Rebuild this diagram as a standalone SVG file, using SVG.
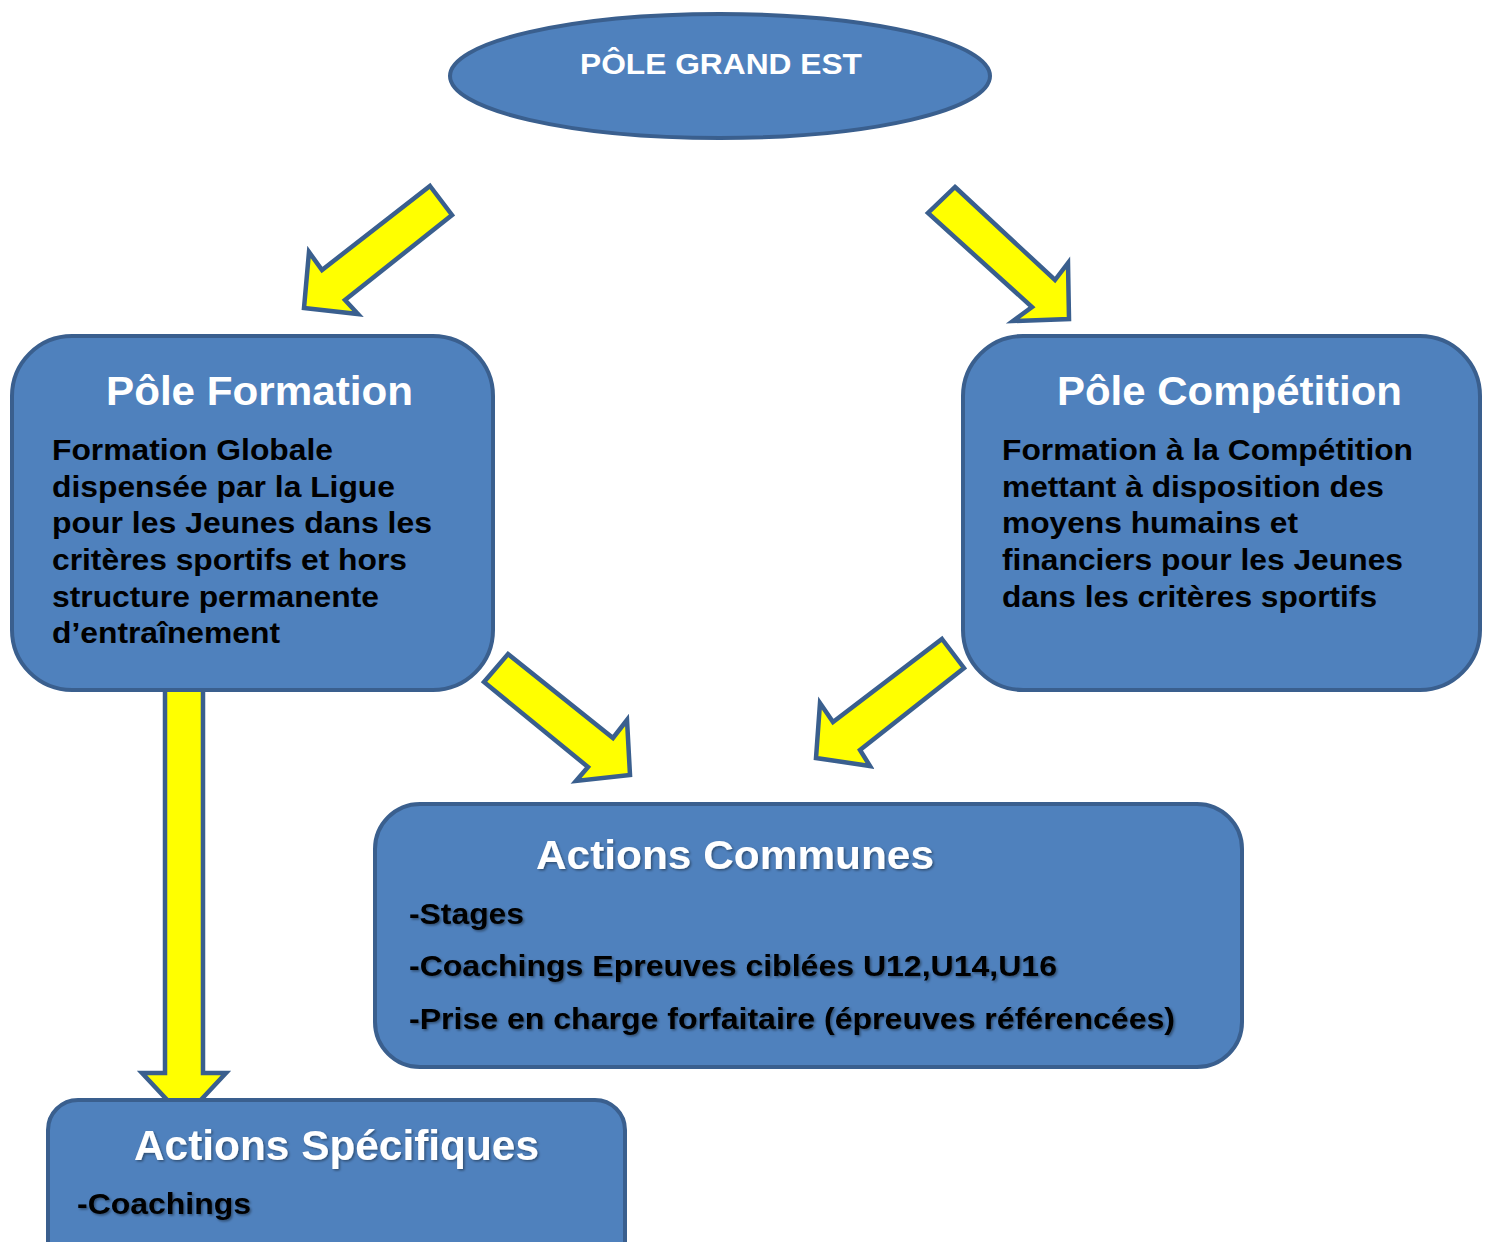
<svg xmlns="http://www.w3.org/2000/svg" width="1491" height="1242" viewBox="0 0 1491 1242">
<defs>
<filter id="sh" x="-5%" y="-20%" width="110%" height="140%">
<feDropShadow dx="1.5" dy="1.5" stdDeviation="1" flood-color="#000" flood-opacity="0.4"/>
</filter>
</defs>
<style>
.box{fill:#4F81BD;stroke:#3A5F8E;stroke-width:4}
.arr{fill:#FFFF00;stroke:#3A5F8E;stroke-width:4.5;stroke-linejoin:miter}
.t{font-family:"Liberation Sans",Arial,sans-serif;font-weight:bold;fill:#fff}
.b{font-family:"Liberation Sans",Arial,sans-serif;font-weight:bold;fill:#000;font-size:30px}
</style>
<rect width="1491" height="1242" fill="#fff"/>
<g id="connectors">
<polygon class="arr" points="165,680 203,680 203,1073 226,1073 184,1118 142,1073 165,1073"/>
<polygon class="arr" points="430,186 452,215 345,300 358,314 304,308 309,252 322,270"/>
<polygon class="arr" points="955,187 1055,280 1068,263 1069,319 1013,321 1032,307 928,213"/>
<polygon class="arr" points="508,654 613,738 627,720 630,775 576,781 588,767 484,682"/>
<polygon class="arr" points="942,639 964,668 860,750 870,766 816,758 820,703 833,722"/>
</g>
<g id="pole-grand-est">
<ellipse class="box" cx="720" cy="76" rx="270" ry="62"/>
<text class="t" x="721" y="74" font-size="30" text-anchor="middle" textLength="282" lengthAdjust="spacingAndGlyphs">PÔLE GRAND EST</text>
</g>
<g id="pole-formation">
<rect class="box" x="12" y="336" width="481" height="354" rx="60"/>
<text class="t" x="106" y="405" font-size="40" textLength="307" lengthAdjust="spacingAndGlyphs">Pôle Formation</text>
<text class="b" x="52" y="460" textLength="281" lengthAdjust="spacingAndGlyphs">Formation Globale</text>
<text class="b" x="52" y="497" textLength="343" lengthAdjust="spacingAndGlyphs">dispensée par la Ligue</text>
<text class="b" x="52" y="533" textLength="380" lengthAdjust="spacingAndGlyphs">pour les Jeunes dans les</text>
<text class="b" x="52" y="570" textLength="355" lengthAdjust="spacingAndGlyphs">critères sportifs et hors</text>
<text class="b" x="52" y="607" textLength="327" lengthAdjust="spacingAndGlyphs">structure permanente</text>
<text class="b" x="52" y="643" textLength="228" lengthAdjust="spacingAndGlyphs">d’entraînement</text>
</g>
<g id="pole-competition">
<rect class="box" x="963" y="336" width="517" height="354" rx="60"/>
<text class="t" x="1057" y="405" font-size="40" textLength="345" lengthAdjust="spacingAndGlyphs">Pôle Compétition</text>
<text class="b" x="1002" y="460" textLength="411" lengthAdjust="spacingAndGlyphs">Formation à la Compétition</text>
<text class="b" x="1002" y="497" textLength="382" lengthAdjust="spacingAndGlyphs">mettant à disposition des</text>
<text class="b" x="1002" y="533" textLength="296" lengthAdjust="spacingAndGlyphs">moyens humains et</text>
<text class="b" x="1002" y="570" textLength="401" lengthAdjust="spacingAndGlyphs">financiers pour les Jeunes</text>
<text class="b" x="1002" y="607" textLength="375" lengthAdjust="spacingAndGlyphs">dans les critères sportifs</text>
</g>
<g id="actions-communes">
<rect class="box" x="375" y="804" width="867" height="263" rx="45"/>
<text class="t" x="536" y="869" font-size="41" textLength="398" lengthAdjust="spacingAndGlyphs" filter="url(#sh)">Actions Communes</text>
<text class="b" x="409" y="924" textLength="115" lengthAdjust="spacingAndGlyphs" filter="url(#sh)">-Stages</text>
<text class="b" x="409" y="976" textLength="648" lengthAdjust="spacingAndGlyphs" filter="url(#sh)">-Coachings Epreuves ciblées U12,U14,U16</text>
<text class="b" x="409" y="1029" textLength="766" lengthAdjust="spacingAndGlyphs" filter="url(#sh)">-Prise en charge forfaitaire (épreuves référencées)</text>
</g>
<g id="actions-specifiques">
<rect class="box" x="48" y="1100" width="577" height="200" rx="30"/>
<text class="t" x="134" y="1160" font-size="42" textLength="405" lengthAdjust="spacingAndGlyphs" filter="url(#sh)">Actions Spécifiques</text>
<text class="b" x="77" y="1214" textLength="174" lengthAdjust="spacingAndGlyphs" filter="url(#sh)">-Coachings</text>
</g>
</svg>
